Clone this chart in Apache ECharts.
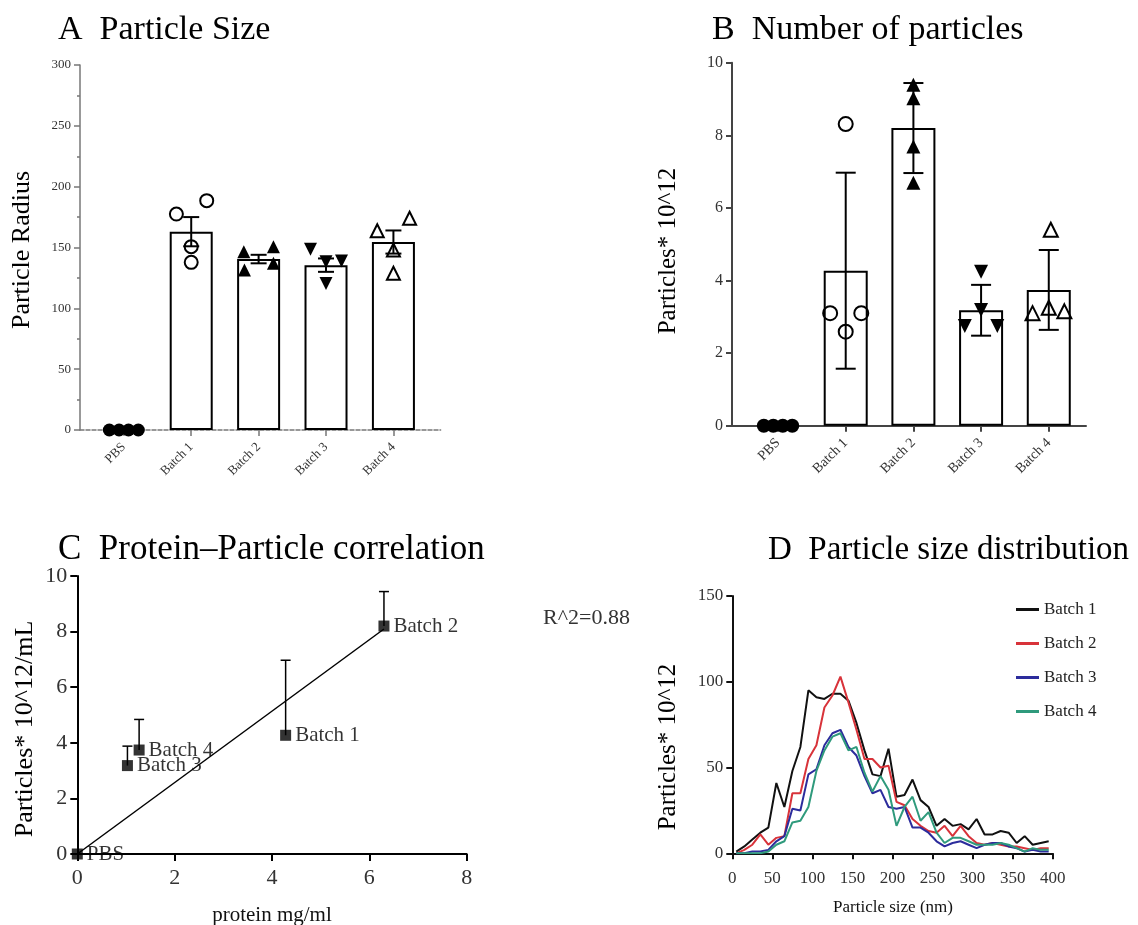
<!DOCTYPE html>
<html><head><meta charset="utf-8">
<script src="https://cdn.jsdelivr.net/npm/echarts@6/dist/echarts.min.js"></script>
<style>html,body{margin:0;padding:0;background:#fff}#c{width:1138px;height:925px}</style>
</head><body><div id="c"></div>
<script>
// ---------- DATA ----------
const groups = ['PBS', 'Batch 1', 'Batch 2', 'Batch 3', 'Batch 4'];

// Panel A: particle radius (mean, SEM, individual replicates)
const radiusMean = [0, 163, 140.5, 135.5, 154.5];
const radiusSem  = [0, 12, 3.5, 5.5, 9.5];
const radiusPBS = [0, 0, 0, 0];
const radiusB1  = [177.5, 188.5, 150.7, 137.8];
const radiusB2  = [146.5, 131.5, 150.7, 137];
const radiusB3  = [148.5, 138.3, 139, 120.5];
const radiusB4  = [163.8, 174, 148, 128.8];

// Panel B: number of particles (x10^12) (mean, SD, replicates)
const countMean = [0, 4.27, 8.2, 3.18, 3.74];
const countSd   = [0, 2.7, 1.24, 0.7, 1.1];
const countPBS = [0, 0, 0, 0];
const countB1  = [8.31, 3.10, 3.10, 2.59];
const countB2  = [9.39, 9.02, 7.69, 6.69];
const countB3  = [4.24, 3.19, 2.75, 2.75];
const countB4  = [5.4, 3.1, 3.25, 3.15];

// Panel C: protein concentration (mg/ml) per group
const proteinMgMl = [0, 4.28, 6.30, 1.03, 1.27];
const rSquared = 0.88;

// Panel D: size distribution
const sizeNm = [5,15,25,35,45,55,65,75,85,95,105,115,125,135,145,155,165,175,185,195,
                205,215,225,235,245,255,265,275,285,295,305,315,325,335,345,355,365,375,385,395];
const distB1 = [1,4,8,12,15,41,27,48,62,95,91,90,93,93,89,76,60,46,45,61,
                33,34,43,31,27,16,20,16,17,14,20,11,11,13,12,6,10,5,6,7];
const distB2 = [0,2,5,11,5,9,10,35,35,55,63,85,92,103,88,72,55,55,50,51,
                30,28,20,16,13,12,16,10,16,10,6,5,6,5,4,4,3,2,3,3];
const distB3 = [0,0,1,1,2,7,10,26,25,46,49,63,70,72,62,57,45,35,37,27,
                26,27,15,15,12,7,4,6,7,5,3,5,6,6,4,3,1,2,1,1];
const distB4 = [0,0,0,0,1,5,7,18,19,27,48,60,68,70,60,62,47,36,45,37,
                16,27,33,19,24,12,6,9,9,7,5,5,5,6,5,3,1,3,2,2];

// ---------- LAYOUT / STYLE (not data) ----------
const SERIF = '"Liberation Serif", "DejaVu Serif", serif';
const JIT_A = [[-0.215,-0.07,0.07,0.215],[-0.22,0.23,0,0],[-0.22,-0.21,0.22,0.22],[-0.23,0,0.23,0],[-0.24,0.24,0,0]];
const JIT_B = [[-0.21,-0.07,0.07,0.21],[0,-0.23,0.23,0],[0,0,0,0],[0,0,-0.24,0.24],[0.03,-0.24,0,0.23]];
const SYM = [
  {symbol:'circle', rot:0, fill:'#000'},
  {symbol:'circle', rot:0, fill:'rgba(0,0,0,0)'},
  {symbol:'triangle', rot:0, fill:'#000'},
  {symbol:'triangle', rot:180, fill:'#000'},
  {symbol:'triangle', rot:0, fill:'rgba(0,0,0,0)'}
];
const radiusPts = [radiusPBS, radiusB1, radiusB2, radiusB3, radiusB4];
const countPts  = [countPBS, countB1, countB2, countB3, countB4];

function errRender(capHalf, lw, upperOnly) {
  return function (params, api) {
    const x = api.value(0), lo = api.value(1), hi = api.value(2);
    const pLo = api.coord([x, lo]);
    const pHi = api.coord([x, hi]);
    const st = {stroke:'#000', lineWidth: lw};
    const ch = [
      {type:'line', shape:{x1:pLo[0], y1:pLo[1], x2:pHi[0], y2:pHi[1]}, style:st},
      {type:'line', shape:{x1:pHi[0]-capHalf, y1:pHi[1], x2:pHi[0]+capHalf, y2:pHi[1]}, style:st}
    ];
    if (!upperOnly) ch.push({type:'line', shape:{x1:pLo[0]-capHalf, y1:pLo[1], x2:pLo[0]+capHalf, y2:pLo[1]}, style:st});
    return {type:'group', children: ch};
  };
}

const series = [];
function barPanel(axisIdx, means, errs, pts, jit, barW, symSize, capHalf) {
  series.push({
    type:'bar', xAxisIndex:axisIdx, yAxisIndex:axisIdx, barWidth:barW,
    data: means.map((m,g)=> g===0 ? null : [g, m]).filter(d=>d),
    itemStyle:{color:'#fff', borderColor:'#000', borderWidth:2}, z:2, silent:true
  });
  pts.forEach((arr,g)=>{
    series.push({
      type:'scatter', xAxisIndex:axisIdx, yAxisIndex:axisIdx,
      symbol: SYM[g].symbol, symbolRotate: SYM[g].rot, symbolSize: symSize,
      data: arr.map((v,i)=>[g + jit[g][i], v]),
      itemStyle:{color:SYM[g].fill, borderColor:'#000', borderWidth: SYM[g].fill==='#000'?0:2, opacity:1},
      z:3, silent:true
    });
  });
  series.push({
    type:'custom', xAxisIndex:axisIdx, yAxisIndex:axisIdx, z:4, silent:true,
    renderItem: errRender(capHalf, 2, false),
    data: means.map((m,g)=> g===0 ? null : [g, m-errs[g], m+errs[g]]).filter(d=>d)
  });
}
barPanel(0, radiusMean, radiusSem, radiusPts, JIT_A, 43, 13, 8);
barPanel(1, countMean, countSd, countPts, JIT_B, 44, 14, 10);

// Panel C
const sxy = proteinMgMl.reduce((s,x,i)=>s + x*countMean[i], 0);
const sxx = proteinMgMl.reduce((s,x)=>s + x*x, 0);
const slope = sxy / sxx;
const xMaxC = Math.max(...proteinMgMl);
series.push({
  type:'line', xAxisIndex:2, yAxisIndex:2, symbol:'none', silent:true,
  data:[[0,0],[xMaxC, slope*xMaxC]], lineStyle:{color:'#000', width:1.5}, z:2
});
series.push({
  type:'custom', xAxisIndex:2, yAxisIndex:2, z:3, silent:true,
  renderItem: errRender(5, 1.5, true),
  data: groups.map((g,i)=> i===0 ? null : [proteinMgMl[i], countMean[i], countMean[i]+countSd[i]]).filter(d=>d)
});
series.push({
  type:'scatter', xAxisIndex:2, yAxisIndex:2, symbol:'rect', symbolSize:11, z:4, silent:true,
  data: groups.map((g,i)=>({value:[proteinMgMl[i], countMean[i]], name:g})),
  itemStyle:{color:'#000'},
  label:{show:true, position:'right', distance:4, formatter:p=>p.name, color:'#000', fontFamily:SERIF, fontSize:21}
});

// Panel D
const dColors = ['#111111', '#d8333a', '#2c2c9c', '#2f9a7c'];
[distB1, distB2, distB3, distB4].forEach((arr,k)=>{
  series.push({
    type:'line', name: groups[k+1], xAxisIndex:3, yAxisIndex:3, showSymbol:false, symbol:'none', silent:true,
    data: arr.map((v,i)=>[sizeNm[i], v]),
    lineStyle:{color:dColors[k], width:2}, itemStyle:{color:dColors[k]}, z:2+k
  });
});

function barX(min, max, fs, col, lw) {
  return {
    type:'value', min:min, max:max, splitLine:{show:false},
    axisLine:{show:true, onZero:false, lineStyle:{color:col, width:lw}},
    axisTick:{show:true, customValues:[0,1,2,3,4], length:6, lineStyle:{color:col, width:lw}},
    axisLabel:{show:true, customValues:[0,1,2,3,4], formatter:v=>groups[Math.round(v)], rotate:45,
      fontFamily:SERIF, fontSize:fs, color:'#333', margin:15}
  };
}
function valAxis(min, max, interval, fs, col, lw, tickLen, margin, extra) {
  return Object.assign({
    type:'value', min:min, max:max, interval:interval, splitLine:{show:false},
    axisLine:{show:true, onZero:false, lineStyle:{color:col, width:lw}},
    axisTick:{show:true, length:tickLen, lineStyle:{color:col, width:lw}},
    axisLabel:{fontFamily:SERIF, fontSize:fs, color:'#333', margin:margin}
  }, extra||{});
}

const xA = barX(-0.65, 4.7, 13, '#777', 1.5);
xA.axisLine.lineStyle.type = [4,2];
const xB = barX(-0.68, 4.55, 14, '#444', 2);

const option = {
  backgroundColor:'#fff',
  animation:false,
  grid:[
    {left:80, top:65, width:360.6, height:365},
    {left:732, top:62.7, width:354, height:363},
    {left:77.3, top:576, width:389.4, height:278},
    {left:732.3, top:596, width:320.4, height:257.3}
  ],
  xAxis:[
    Object.assign(xA, {gridIndex:0}),
    Object.assign(xB, {gridIndex:1}),
    Object.assign(valAxis(0, 8, 2, 22, '#000', 2, 7, 13), {gridIndex:2}),
    Object.assign(valAxis(0, 400, 50, 17, '#111', 2, 6, 17), {gridIndex:3})
  ],
  yAxis:[
    Object.assign(valAxis(0, 300, 50, 13, '#777', 1.5, 6, 9, {minorTick:{show:true, splitNumber:2, length:3, lineStyle:{color:'#777', width:1.5}}}), {gridIndex:0}),
    Object.assign(valAxis(0, 10, 2, 16, '#444', 2, 6, 9), {gridIndex:1}),
    Object.assign(valAxis(0, 10, 2, 22, '#000', 2, 7, 10), {gridIndex:2}),
    Object.assign(valAxis(0, 150, 50, 17, '#111', 2, 6, 9), {gridIndex:3})
  ],
  legend:{
    data: groups.slice(1), orient:'vertical', left:1011, top:596, itemWidth:23, itemHeight:3, itemGap:17,
    icon:'rect', textStyle:{fontFamily:SERIF, fontSize:17, color:'#222', lineHeight:17},
    selectedMode:false
  },
  series: series,
  graphic:[
    {type:'text', x:58, y:30, style:{text:'A  Particle Size', font:'34px '+SERIF, fill:'#000', textVerticalAlign:'middle'}},
    {type:'text', x:712, y:30, style:{text:'B  Number of particles', font:'34px '+SERIF, fill:'#000', textVerticalAlign:'middle'}},
    {type:'text', x:58, y:550, style:{text:'C  Protein\u2013Particle correlation', font:'35px '+SERIF, fill:'#000', textVerticalAlign:'middle'}},
    {type:'text', x:768, y:550, style:{text:'D  Particle size distribution', font:'33px '+SERIF, fill:'#000', textVerticalAlign:'middle'}},
    {type:'text', x:22, y:250, rotation:Math.PI/2, style:{text:'Particle Radius', font:'26px '+SERIF, fill:'#000', textAlign:'center', textVerticalAlign:'middle'}},
    {type:'text', x:668, y:251, rotation:Math.PI/2, style:{text:'Particles* 10^12', font:'25px '+SERIF, fill:'#000', textAlign:'center', textVerticalAlign:'middle'}},
    {type:'text', x:25, y:729, rotation:Math.PI/2, style:{text:'Particles* 10^12/mL', font:'26px '+SERIF, fill:'#000', textAlign:'center', textVerticalAlign:'middle'}},
    {type:'text', x:668, y:747, rotation:Math.PI/2, style:{text:'Particles* 10^12', font:'25px '+SERIF, fill:'#000', textAlign:'center', textVerticalAlign:'middle'}},
    {type:'text', x:272, y:915, style:{text:'protein mg/ml', font:'21px '+SERIF, fill:'#111', textAlign:'center', textVerticalAlign:'middle'}},
    {type:'text', x:893, y:908, style:{text:'Particle size (nm)', font:'17px '+SERIF, fill:'#111', textAlign:'center', textVerticalAlign:'middle'}},
    {type:'text', x:543, y:618, style:{text:'R^2=' + rSquared.toFixed(2), font:'22px '+SERIF, fill:'#333', textVerticalAlign:'middle'}}
  ]
};
const chart = echarts.init(document.getElementById('c'), null, {renderer:'canvas'});
chart.setOption(option);
</script>
</body></html>
